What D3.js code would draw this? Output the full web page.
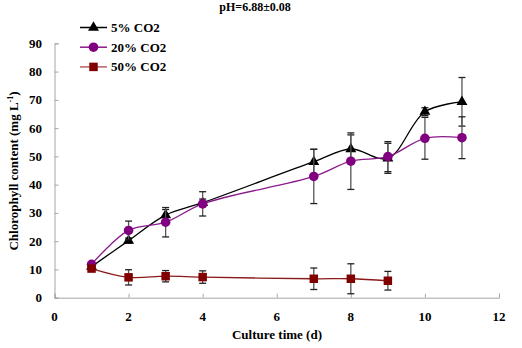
<!DOCTYPE html>
<html>
<head>
<meta charset="utf-8">
<script src="https://cdn.jsdelivr.net/npm/d3@7"></script>
<style>
  body { margin: 0; background: #fff; }
</style>
</head>
<body>
<div id="chart"></div>
<script>
// chart values
var days5 = [1, 2, 3, 4, 7, 8, 9, 10, 11]
var co2_5 = [11, 20.2, 29.2, 33.6, 48.1, 52.6, 49.3, 65.8, 69.3]
var err5 = [0.6, 0.9, 2.0, 1.3, 4.4, 5.0, 5.3, 1.4, 8.6]

var days20 = [1, 2, 3, 4, 7, 8, 9, 10, 11]
var co2_20 = [11.8, 23.8, 26.7, 33.2, 42.9, 48.3, 49.9, 56.4, 56.6]
var err20 = [0.5, 3.3, 5.2, 4.3, 9.6, 10.0, 5.3, 7.4, 7.4]

var days50 = [1, 2, 3, 4, 7, 8, 9]
var co2_50 = [10.3, 7.2, 7.6, 7.3, 6.7, 6.7, 6.0]
var err50 = [0.5, 2.7, 2.0, 2.2, 3.8, 5.3, 3.3]

var xTicks = [0, 2, 4, 6, 8, 10, 12]
var yTicks = [0, 10, 20, 30, 40, 50, 60, 70, 80, 90]
var seriesNames = ["5% CO2", "20% CO2", "50% CO2"]

var width = 522
var height = 348
var serif = "Liberation Serif"

var svg = d3.select("#chart")
    .append("svg")
    .attr("width", width)
    .attr("height", height)

var x = d3.scaleLinear().domain([0, 12]).range([54.5, 499])
var y = d3.scaleLinear().domain([0, 90]).range([297.7, 43.3])

// axes: grey lines, ticks pointing inward
svg.append("g")
    .attr("transform", "translate(0," + y(0) + ")")
    .call(d3.axisBottom(x).tickValues(xTicks).tickSize(-4).tickFormat(""))
svg.append("g")
    .attr("transform", "translate(" + x(0) + ",0)")
    .call(d3.axisLeft(y).tickValues(yTicks).tickSize(-4).tickFormat(""))
svg.selectAll(".domain, .tick line").attr("stroke", "#a6a6a6").attr("stroke-width", 1)
svg.selectAll(".tick text").remove()

function label(sel, size) {
    return sel.attr("font-family", serif).attr("font-weight", "bold").attr("font-size", size).attr("fill", "#000")
}

svg.append("g").selectAll("text")
    .data(xTicks)
    .enter()
    .append("text")
    .call(label, 13)
    .attr("x", function(d) { return x(d) })
    .attr("y", 321)
    .attr("text-anchor", "middle")
    .text(function(d) { return d })

svg.append("g").selectAll("text")
    .data(yTicks)
    .enter()
    .append("text")
    .call(label, 13)
    .attr("x", 42)
    .attr("y", function(d) { return y(d) })
    .attr("dy", "0.35em")
    .attr("text-anchor", "end")
    .text(function(d) { return d })

// titles
svg.append("text")
    .call(label, 12)
    .attr("x", 255).attr("y", 11)
    .attr("text-anchor", "middle")
    .text("pH=6.88±0.08")

svg.append("text")
    .call(label, 13)
    .attr("x", 277).attr("y", 339)
    .attr("text-anchor", "middle")
    .text("Culture time (d)")

var yt = svg.append("text")
    .call(label, 13)
    .attr("transform", "translate(18,171) rotate(-90)")
    .attr("text-anchor", "middle")
yt.append("tspan").text("Chlorophyll content (mg L")
yt.append("tspan").attr("dy", -5).attr("font-size", 8).text("-1")
yt.append("tspan").attr("dy", 5).text(")")

var series = [
    { name: seriesNames[0], days: days5, vals: co2_5, errs: err5, color: "#000000", line: "#000000", shape: d3.symbolTriangle, size: 52 },
    { name: seriesNames[1], days: days20, vals: co2_20, errs: err20, color: "#800080", line: "#8b1a8b", shape: d3.symbolCircle, size: 72 },
    { name: seriesNames[2], days: days50, vals: co2_50, errs: err50, color: "#800000", line: "#8b1a1a", shape: d3.symbolSquare, size: 72 }
]

var line = d3.line()
    .x(function(d) { return x(d[0]) })
    .y(function(d) { return y(d[1]) })
    .curve(d3.curveCatmullRom.alpha(0.5))

series.forEach(function(s) {
    var pts = s.days.map(function(d, i) { return [d, s.vals[i], s.errs[i]] })
    var g = svg.append("g")

    // error bars
    var eb = g.append("g").selectAll("g")
        .data(pts)
        .enter()
        .append("g")
    eb.append("line")
        .attr("x1", function(d) { return x(d[0]) })
        .attr("x2", function(d) { return x(d[0]) })
        .attr("y1", function(d) { return y(d[1] - d[2]) })
        .attr("y2", function(d) { return y(d[1] + d[2]) })
        .attr("stroke", "#555")
        .attr("stroke-width", 1.3)
    ;[-1, 1].forEach(function(sign) {
        eb.append("line")
            .attr("x1", function(d) { return x(d[0]) - 3.5 })
            .attr("x2", function(d) { return x(d[0]) + 3.5 })
            .attr("y1", function(d) { return y(d[1] + sign * d[2]) })
            .attr("y2", function(d) { return y(d[1] + sign * d[2]) })
            .attr("stroke", "#222")
            .attr("stroke-width", 1.3)
    })

    g.append("path")
        .datum(pts)
        .attr("d", line)
        .attr("fill", "none")
        .attr("stroke", s.line)
        .attr("stroke-width", 1.3)

    g.append("g").selectAll("path")
        .data(pts)
        .enter()
        .append("path")
        .attr("transform", function(d) { return "translate(" + x(d[0]) + "," + y(d[1]) + ")" })
        .attr("d", d3.symbol().type(s.shape).size(s.size))
        .attr("fill", s.color)
})

// legend
var legend = svg.append("g").selectAll("g")
    .data(series)
    .enter()
    .append("g")
    .attr("transform", function(d, i) { return "translate(80," + (27.5 + i * 19.7) + ")" })
legend.append("line")
    .attr("x1", 0).attr("x2", 27)
    .attr("stroke", function(d, i) { return i == 2 ? "#b86060" : d.line })
    .attr("stroke-width", 1.5)
legend.append("path")
    .attr("transform", "translate(13.5,0)")
    .attr("d", function(d) { return d3.symbol().type(d.shape).size(d.size)() })
    .attr("fill", function(d) { return d.color })
legend.append("text")
    .call(label, 13)
    .attr("x", 31)
    .attr("dy", "0.35em")
    .text(function(d) { return d.name })
</script>
</body>
</html>
